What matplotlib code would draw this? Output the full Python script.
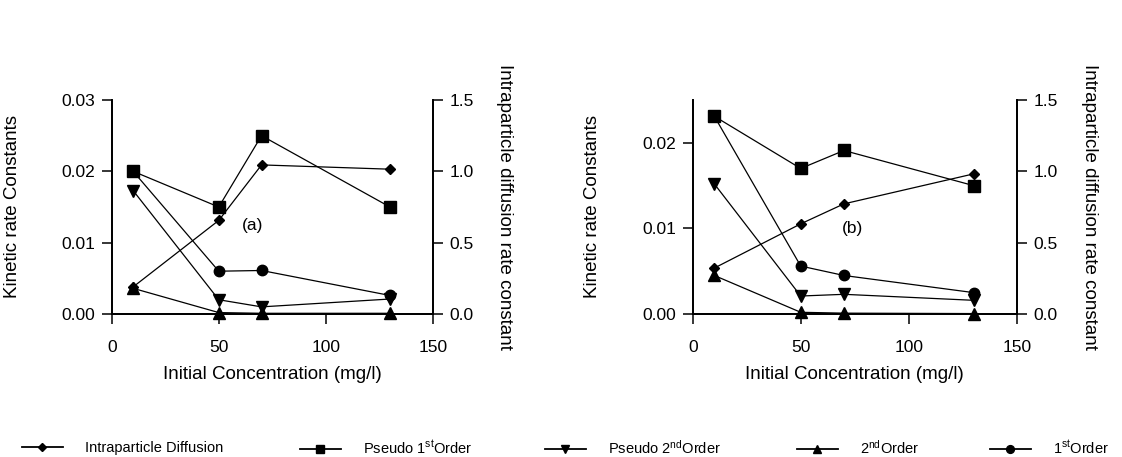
import matplotlib
matplotlib.use("Agg")
import matplotlib.pyplot as plt
from matplotlib.lines import Line2D

plt.rcParams['font.family'] = ['Liberation Sans', 'DejaVu Sans']
plt.rcParams['mathtext.fontset'] = 'custom'
plt.rcParams['mathtext.rm'] = 'Liberation Sans'
plt.rcParams['mathtext.it'] = 'Liberation Sans:italic'

# initial concentrations (mg/l)
conc = [10, 50, 70, 130]

# panel (a)
a_intra = [0.19, 0.656, 1.045, 1.015]
a_pseudo1 = [0.020, 0.015, 0.025, 0.015]
a_pseudo2 = [0.0173, 0.0020, 0.0010, 0.0021]
a_second = [0.0036, 0.0002, 0.0001, 0.0001]
a_first = [0.020, 0.0060, 0.0061, 0.0026]

# panel (b)
b_intra = [0.322, 0.632, 0.772, 0.982]
b_pseudo1 = [0.0231, 0.0170, 0.0191, 0.0150]
b_pseudo2 = [0.0152, 0.0021, 0.0023, 0.0016]
b_second = [0.0045, 0.0002, 0.0001, 0.00005]
b_first = [0.0231, 0.0056, 0.0045, 0.0025]

legend_labels = ["Intraparticle Diffusion", r"Pseudo 1$^{\mathrm{st}}$Order",
                 r"Pseudo 2$^{\mathrm{nd}}$Order", r"2$^{\mathrm{nd}}$Order",
                 r"1$^{\mathrm{st}}$Order"]

styles = [('D', 5), ('s', 8.5), ('v', 8), ('^', 8), ('o', 7.5)]

fig = plt.figure(figsize=(11.22, 4.57), dpi=100)
axes_pos = [[0.0996, 0.3129, 0.2861, 0.4683], [0.6174, 0.3129, 0.2888, 0.4683]]
panels = [
    (a_intra, a_pseudo1, a_pseudo2, a_second, a_first, 0.03, [0, 0.01, 0.02, 0.03], "(a)", (66, 0.0124)),
    (b_intra, b_pseudo1, b_pseudo2, b_second, b_first, 0.025, [0, 0.01, 0.02], "(b)", (74, 0.010)),
]

lw = 0.9
for pos, (intra, p1, p2, s2, f1, ytop, yt, tag, tpos) in zip(axes_pos, panels):
    ax = fig.add_axes(pos)
    ax2 = ax.twinx()
    kinetic = [p1, p2, s2, f1]
    for ys, (m, ms) in zip(kinetic, styles[1:]):
        ax.plot(conc, ys, color='k', lw=lw, marker=m, ms=ms, clip_on=False, zorder=3)
    m, ms = styles[0]
    ax2.plot(conc, intra, color='k', lw=lw, marker=m, ms=ms, clip_on=False, zorder=3)

    ax.set_xlim(0, 150)
    ax.set_ylim(0, ytop)
    ax.set_xticks([0, 50, 100, 150])
    ax.set_yticks(yt)
    ax.yaxis.set_major_formatter(matplotlib.ticker.FormatStrFormatter('%.2f'))
    ax2.set_ylim(0, 1.5)
    ax2.set_yticks([0, 0.5, 1.0, 1.5])
    ax2.yaxis.set_major_formatter(matplotlib.ticker.FormatStrFormatter('%.1f'))

    for a in (ax, ax2):
        a.spines['top'].set_visible(False)
        for s in a.spines.values():
            s.set_linewidth(1.3)
        a.tick_params(width=1.1, length=7, labelsize=12.5, direction='out')
    ax.tick_params(axis='x', pad=12)
    ax.tick_params(axis='y', pad=5)
    ax2.tick_params(axis='y', pad=5)

    ax.text(-0.31, 0.5, "Kinetic rate Constants", transform=ax.transAxes,
            rotation=90, ha='center', va='center', fontsize=13.5)
    ax.text(1.225, 0.5, "Intraparticle diffusion rate constant", transform=ax.transAxes,
            rotation=270, ha='center', va='center', fontsize=13.5)
    ax.text(0.5, -0.285, "Initial Concentration (mg/l)", transform=ax.transAxes,
            ha='center', va='center', fontsize=13.5)
    ax.text(tpos[0], tpos[1], tag, ha='center', va='center', fontsize=12.5)

# legend row under both panels
leg_x = [22, 300, 545, 797, 990]
for x, lab, (m, ms) in zip(leg_x, legend_labels, styles):
    h = Line2D([], [], color='k', lw=1.3, marker=m, ms=ms * 0.75)
    fig.legend([h], [lab], loc='center left', bbox_to_anchor=(x / 1122, 0.0197),
               frameon=False, borderpad=0, borderaxespad=0, handlelength=2.8,
               handletextpad=1.5, fontsize=10.5)

fig.savefig("out.png", dpi=100)
